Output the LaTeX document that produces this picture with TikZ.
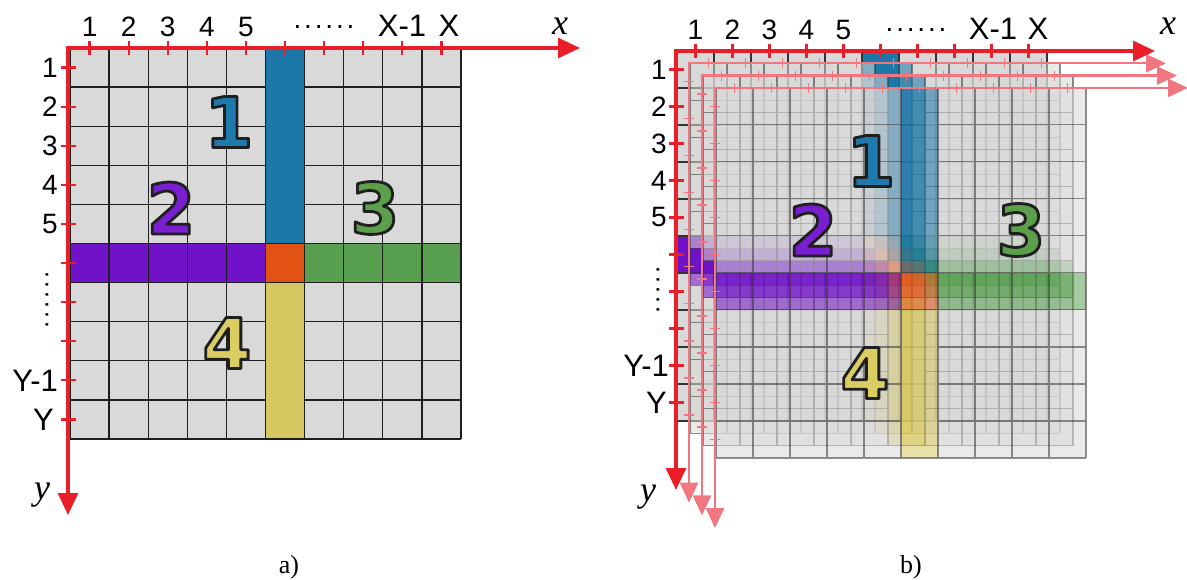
\documentclass[tikz,border=0pt]{standalone}
\usepackage{fontspec}
\setmainfont{Liberation Sans}
\newfontfamily\serifit{Liberation Serif}
\newfontfamily\bigdig{DejaVu Sans}
\usetikzlibrary{arrows.meta}
\definecolor{gridgray}{RGB}{217,217,217}
\definecolor{cblue}{RGB}{28,120,168}
\definecolor{cpurple}{RGB}{112,18,200}
\definecolor{corange}{RGB}{226,82,18}
\definecolor{cgreen}{RGB}{88,160,80}
\definecolor{cyellow}{RGB}{214,200,96}
\definecolor{nblue}{RGB}{30,122,172}
\definecolor{npurple}{RGB}{122,30,210}
\definecolor{ngreen}{RGB}{92,160,76}
\definecolor{nyellow}{RGB}{218,205,98}
\definecolor{axred}{RGB}{234,30,40}
\definecolor{axpink}{RGB}{242,118,128}

\newcommand\gridpattern[1]{%
 \fill[gridgray] (0,0) rectangle (5,5);
 \fill[gridgray] (6,0) rectangle (10,5);
 \fill[gridgray] (0,6) rectangle (5,10);
 \fill[gridgray] (6,6) rectangle (10,10);
 \fill[cblue] (5,0) rectangle (6,5);
 \fill[cpurple] (0,5) rectangle (5,6);
 \fill[corange] (5,5) rectangle (6,6);
 \fill[cgreen] (6,5) rectangle (10,6);
 \fill[cyellow] (5,6) rectangle (6,10);
 \draw[#1] (0,0) -- (10,0) (0,5) -- (10,5) (0,6) -- (10,6) (0,10) -- (10,10)
   \foreach \j in {1,2,3,4,7,8,9} { (0,\j) -- (5,\j) (6,\j) -- (10,\j) }
   \foreach \i in {0,...,10} { (\i,0) -- (\i,10) };
}

% outlined digit: fill in colour #1, dark stroke (text render mode 2)
\newcommand\olnum[2]{{\color{#1}\special{pdf:code 2 Tr 2.8 w 1 j 0.12 0.12 0.12 RG}#2\special{pdf:code 0 Tr}}}
\newcommand\dotrow[1]{.\foreach \n in {2,...,#1}{\kern2.8pt.}}

\newcommand\layerb[2]{%
 \begin{scope}[opacity=#2]
  \begin{scope}[shift={({677+13*#1},{51+12.3*#1})}, x=37pt, y=-37pt]
   \gridpattern{gridB}
  \end{scope}
 \end{scope}}

\newcommand\axesb[1]{%
 \coordinate (bo#1) at ({676+13*#1},{51+12.3*#1});
 \coordinate (bx#1) at ({1155+11*#1},{51+12.3*#1});
 \coordinate (by#1) at ({676+13*#1},{490+12.7*#1});
 \draw[axisP] (bx#1) -- (bo#1) -- (by#1);
 \foreach \i in {0,...,9} {
   \draw[tickP] ({677+13*#1+(\i+0.5)*37},{46+12.3*#1}) -- ++(0,10);
   \draw[tickP] ({671+13*#1},{51+12.3*#1+(\i+0.5)*37}) -- ++(10,0);
 }}

\tikzset{
 gridA/.style={draw=black!88, line width=1.3pt},
 gridB/.style={draw=black!80, line width=1.2pt},
 axisR/.style={draw=axred, line width=3.2pt, line join=miter,
   {Triangle[length=22pt,width=20pt]}-{Triangle[length=22pt,width=20pt]}},
 axisP/.style={draw=axpink, line width=2.4pt, line join=miter,
   {Triangle[length=20pt,width=18pt]}-{Triangle[length=20pt,width=18pt]}},
 tickR/.style={draw=axred, line width=2.2pt},
 tickP/.style={draw=axpink, line width=1.4pt},
 lab/.style={inner sep=0pt, font=\fontsize{28}{28}\selectfont},
 labL/.style={inner sep=0pt, font=\fontsize{31}{31}\selectfont},
 vdots/.style={inner sep=0pt, rotate=90, font=\fontsize{26}{26}\selectfont},
 axname/.style={inner sep=0pt, font=\serifit\itshape\fontsize{36}{36}\selectfont},
 caption/.style={inner sep=0pt, font=\serifit\fontsize{26}{26}\selectfont},
 bignum/.style={inner sep=0pt, font=\bigdig\bfseries\fontsize{70}{70}\selectfont},
}

\begin{document}
\begin{tikzpicture}[x=1pt,y=-1pt]
\useasboundingbox (0,0) rectangle (1187,580);

% ================= panel a =================
\begin{scope}[shift={(70,48)}, x=39.1pt, y=-39.1pt]
 \gridpattern{gridA}
\end{scope}

\coordinate (Oa) at (68,48);
\coordinate (Xa) at (580,48);
\coordinate (Ya) at (68,515);
\draw[axisR] (Xa) -- (Oa) -- (Ya);
\foreach \i in {0,...,9} {
  \draw[tickR] ({70+(\i+0.5)*39.1},41) -- ++(0,14);
  \draw[tickR] (61,{48+(\i+0.5)*39.1}) -- ++(15,0);
}
\foreach \t [count=\i] in {1,2,3,4,5} {
  \node[lab, anchor=base] (ax\i) at ({70+(\i-0.5)*39.1},37) {\t};
  \node[lab, anchor=east] (ay\i) at (58,{48+(\i-0.5)*39.1}) {\t};
}
\node[lab, anchor=base] (axd) at (324,37) {\raisebox{8pt}{\dotrow{6}}};
\node[labL, anchor=base] (axX1) at (402,37) {X-1};
\node[labL, anchor=base] (axX) at (449,37) {X};
\node[labL, anchor=east] (ayY1) at (58,380.4) {Y-1};
\node[labL, anchor=east] (ayY) at (54,419.5) {Y};
\node[vdots] (ayd) at (47,300) {\dotrow{6}};
\node[axname] (xa) at (560,26) {x};
\node[axname] (ya) at (42,495) {y};
\node[caption] (capa) at (289,567) {a)};

\node[bignum] (n1a) at (229,122) {\olnum{nblue}{1}};
\node[bignum] (n2a) at (171,208) {\olnum{npurple}{2}};
\node[bignum] (n3a) at (375,208) {\olnum{ngreen}{3}};
\node[bignum] (n4a) at (227,343) {\olnum{nyellow}{4}};

% ================= panel b =================
\layerb{0}{1}
\layerb{1}{0.55}
\axesb{1}
\layerb{2}{0.55}
\axesb{2}
\layerb{3}{0.55}
\axesb{3}

\coordinate (Ob) at (676,51);
\coordinate (Xb) at (1155,51);
\coordinate (Yb) at (676,490);
\draw[axisR] (Xb) -- (Ob) -- (Yb);
\foreach \i in {0,...,9} {
  \draw[tickR] ({677+(\i+0.5)*37},44) -- ++(0,14);
  \draw[tickR] (669,{51+(\i+0.5)*37}) -- ++(15,0);
}
\foreach \t [count=\i] in {1,2,3,4,5} {
  \node[lab, anchor=base] (bx\i) at ({677+(\i-0.5)*37},40) {\t};
  \node[lab, anchor=east] (by\i) at (667,{51+(\i-0.5)*37}) {\t};
}
\node[lab, anchor=base] (bxd) at (916,40) {\raisebox{8pt}{\dotrow{6}}};
\node[labL, anchor=base] (bxX1) at (993,40) {X-1};
\node[labL, anchor=base] (bxX) at (1038,40) {X};
\node[labL, anchor=east] (byY1) at (669,365.5) {Y-1};
\node[labL, anchor=east] (byY) at (667,402.5) {Y};
\node[vdots] (byd) at (658,290) {\dotrow{5}};
\node[axname] (xb) at (1168,26) {x};
\node[axname] (yb) at (648,497) {y};
\node[caption] (capb) at (911,567) {b)};

\node[bignum] (n1b) at (871,161) {\olnum{nblue}{1}};
\node[bignum] (n2b) at (813,230) {\olnum{npurple}{2}};
\node[bignum] (n3b) at (1021,230) {\olnum{ngreen}{3}};
\node[bignum] (n4b) at (865,373) {\olnum{nyellow}{4}};
\end{tikzpicture}
\end{document}
